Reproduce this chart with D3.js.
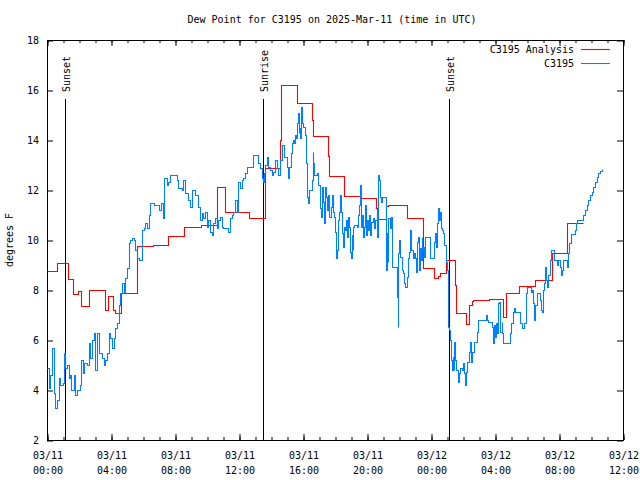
<!DOCTYPE html>
<html>
<head>
<meta charset="utf-8">
<script src="https://cdn.jsdelivr.net/npm/d3@7"></script>
<style>
  html, body { margin: 0; padding: 0; background: #fff; }
  svg { display: block; }
  text { font-family: "DejaVu Sans Mono", "Liberation Mono", monospace; font-size: 10px; fill: #000; }
</style>
</head>
<body>
<svg id="chart" width="640" height="480"></svg>
<script>
// ---------------- data ----------------
const chartTitle = "Dew Point for C3195 on 2025-Mar-11 (time in UTC)";
const yLabel = "degrees F";
const seriesNames = ["C3195 Analysis", "C3195"];

// hours since 03/11 00:00 UTC
const xTickHours = [0, 4, 8, 12, 16, 20, 24, 28, 32, 36];
const xTickDates = ["03/11", "03/11", "03/11", "03/11", "03/11", "03/11", "03/12", "03/12", "03/12", "03/12"];
const xTickTimes = ["00:00", "04:00", "08:00", "12:00", "16:00", "20:00", "00:00", "04:00", "08:00", "12:00"];
const xMinorHours = d3.range(0, 37, 1);
const yTicks = [2, 4, 6, 8, 10, 12, 14, 16, 18];

const sunEvents = [
  { label: "Sunset", hour: 1.125 },
  { label: "Sunrise", hour: 13.52 },
  { label: "Sunset", hour: 25.14 }
];

// analysis (step) series: [hour, value]
const analysis = [
  [0, 8.76], [0.6, 9.1], [1.29, 8.76], [1.33, 8.43], [1.65, 7.84], [1.96, 7.97], [2.1, 7.36],
  [2.65, 7.99], [3.63, 7.2], [3.83, 7.77], [4.1, 7.2], [4.25, 7.07], [4.63, 7.9], [5.6, 9.76],
  [6.65, 9.8], [7.58, 10.16], [8.58, 10.53], [9.6, 10.6], [10.6, 12.13], [11.13, 11.13],
  [12.62, 10.87], [13.63, 12.87], [14.56, 14.0], [14.6, 16.2], [15.6, 15.84], [15.64, 15.47],
  [16.56, 14.8], [16.6, 14.16], [17.56, 13.36], [17.6, 12.57], [18.56, 11.76], [19.6, 11.68],
  [20.56, 11.28], [20.65, 10.83], [21.19, 11.36], [21.3, 11.4], [22.5, 10.87], [23.52, 8.9],
  [24.2, 8.47], [24.45, 8.55], [24.56, 8.67], [24.94, 9.2], [25.5, 8.2], [25.58, 7.1],
  [26.19, 6.64], [26.4, 7.4], [26.54, 7.57], [26.65, 7.6], [27.6, 7.64], [28.52, 6.93],
  [28.69, 7.9], [29.52, 8.17], [30.5, 8.4], [31.54, 9.47], [32.48, 10.67], [33.5, 10.67]
];

// observed series: [hour, value]
const observed = [
  [0, 4.9], [0.1, 4.1], [0.21, 4.6], [0.31, 5.7], [0.42, 3.9], [0.52, 3.3], [0.63, 3.6], [0.73, 4.5],
  [0.83, 4.2], [1.0, 4.3], [1.04, 5.5], [1.15, 4.9], [1.25, 5.0], [1.35, 4.5], [1.46, 4.6], [1.5, 4.0],
  [1.67, 4.6], [1.77, 3.8], [1.88, 4.0], [2.08, 4.2], [2.13, 5.2], [2.25, 4.7], [2.33, 5.1], [2.5, 5.0],
  [2.6, 5.9], [2.71, 5.3], [2.81, 6.0], [2.92, 6.3], [3.02, 4.8], [3.13, 6.3], [3.23, 5.5], [3.44, 5.3],
  [3.54, 5.0], [3.65, 5.2], [3.75, 5.5], [3.85, 6.3], [3.96, 6.1], [4.06, 5.7], [4.17, 6.1], [4.27, 6.5],
  [4.38, 6.7], [4.48, 7.4], [4.58, 7.9], [4.69, 8.3], [4.79, 7.9], [4.9, 8.5], [5.0, 8.9], [5.1, 9.9],
  [5.21, 10.0], [5.31, 10.1], [5.46, 10.0], [5.52, 9.6], [5.63, 9.3], [5.73, 9.2], [5.94, 10.4],
  [6.04, 10.5], [6.15, 10.7], [6.25, 10.5], [6.35, 11.0], [6.46, 11.5], [6.67, 11.4], [6.98, 11.2],
  [7.06, 11.2], [7.15, 11.5], [7.27, 10.9], [7.3, 12.47], [7.48, 12.2], [7.58, 12.3], [7.69, 12.6],
  [8.06, 12.6], [8.1, 12.4], [8.21, 12.1], [8.42, 12.0], [8.52, 12.4], [8.63, 11.9], [8.83, 11.6],
  [8.94, 11.3], [9.04, 12.0], [9.25, 11.8], [9.46, 11.33], [9.56, 10.8], [9.67, 11.1], [9.77, 10.9],
  [9.88, 11.13], [9.98, 10.53], [10.08, 10.8], [10.19, 10.33], [10.29, 10.2], [10.4, 10.67],
  [10.5, 10.87], [10.6, 10.47], [10.71, 10.8], [10.81, 10.93], [10.92, 10.53], [11.02, 10.5],
  [11.33, 10.3], [11.44, 10.9], [11.54, 11.0], [11.65, 11.13], [11.75, 11.6], [11.85, 11.13],
  [11.96, 12.33], [12.06, 12.1], [12.17, 12.4], [12.27, 12.47], [12.38, 12.67], [12.48, 12.93],
  [12.9, 13.4], [13.21, 13.07], [13.31, 12.9], [13.42, 12.47], [13.48, 12.3], [13.54, 12.7],
  [13.63, 13.0], [13.73, 13.33], [13.83, 12.93], [13.94, 12.8], [14.04, 12.6], [14.15, 12.73],
  [14.25, 13.2], [14.35, 12.87], [14.46, 12.6], [14.56, 13.2], [14.67, 13.8], [14.81, 13.33],
  [14.98, 12.93], [15.08, 12.47], [15.15, 12.93], [15.23, 13.47], [15.29, 13.87], [15.35, 14.0],
  [15.44, 13.87], [15.5, 14.2], [15.56, 14.07], [15.6, 14.67], [15.67, 15.07], [15.73, 14.27],
  [15.77, 14.47], [15.81, 14.07], [15.88, 15.33], [15.94, 14.67], [16.02, 14.53], [16.13, 14.2],
  [16.19, 13.07], [16.23, 11.73], [16.33, 11.47], [16.4, 12.0], [16.56, 12.4], [16.6, 13.53],
  [16.65, 13.07], [16.71, 12.6], [16.85, 12.67], [16.94, 12.2], [17.06, 11.27], [17.13, 10.93],
  [17.19, 12.13], [17.25, 11.53], [17.31, 10.67], [17.38, 12.13], [17.44, 11.73], [17.52, 11.2],
  [17.58, 11.8], [17.65, 10.93], [17.73, 11.33], [17.79, 11.8], [17.85, 11.13], [17.94, 10.93],
  [18.0, 10.33], [18.06, 9.27], [18.1, 9.6], [18.17, 10.8], [18.23, 11.13], [18.31, 11.8],
  [18.35, 11.13], [18.42, 10.27], [18.48, 9.73], [18.56, 10.53], [18.63, 10.4], [18.69, 10.8],
  [18.73, 10.13], [18.79, 10.93], [18.85, 10.53], [18.92, 9.53], [18.98, 9.27], [19.04, 10.2],
  [19.1, 9.6], [19.15, 10.53], [19.21, 10.6], [19.4, 10.53], [19.46, 11.0], [19.52, 11.4],
  [19.56, 12.2], [19.63, 10.53], [19.69, 11.0], [19.75, 10.13], [19.81, 10.53], [19.88, 11.4],
  [19.94, 10.2], [20.0, 10.8], [20.08, 10.4], [20.15, 11.0], [20.19, 10.2], [20.25, 10.73],
  [20.38, 10.87], [20.44, 10.47], [20.5, 10.8], [20.6, 11.2], [20.65, 10.13], [20.71, 12.6],
  [20.77, 12.4], [20.81, 11.73], [20.88, 11.53], [20.94, 11.73], [21.17, 11.73], [21.19, 8.8],
  [21.23, 10.27], [21.29, 9.13], [21.33, 10.87], [21.42, 10.47], [21.48, 10.93], [21.54, 8.93],
  [21.85, 8.93], [21.88, 7.73], [21.92, 6.53], [21.96, 9.47], [22.02, 10.0], [22.08, 9.33],
  [22.17, 8.8], [22.23, 8.67], [22.29, 8.27], [22.38, 8.13], [22.48, 8.53], [22.54, 9.27],
  [22.63, 9.53], [22.69, 10.4], [22.75, 9.6], [22.9, 9.27], [22.96, 9.47], [23.0, 9.27],
  [23.04, 8.73], [23.1, 9.93], [23.17, 10.13], [23.25, 8.8], [23.31, 9.67], [23.38, 9.2],
  [23.42, 10.13], [23.46, 9.53], [23.52, 9.73], [23.58, 9.33], [23.63, 10.13], [23.94, 9.27],
  [24.21, 9.93], [24.25, 10.27], [24.29, 9.73], [24.35, 10.67], [24.42, 10.87], [24.46, 11.27],
  [24.52, 10.8], [24.56, 11.13], [24.63, 10.47], [24.71, 10.4], [24.77, 10.27], [24.83, 9.8],
  [24.92, 9.13], [24.98, 8.8], [25.04, 7.47], [25.08, 6.53], [25.15, 6.4], [25.19, 6.0],
  [25.23, 5.2], [25.29, 4.8], [25.35, 5.33], [25.42, 4.8], [25.46, 5.93], [25.52, 5.2],
  [25.58, 4.8], [25.71, 4.33], [25.77, 4.67], [25.83, 4.87], [25.92, 4.8], [25.98, 5.07],
  [26.04, 4.67], [26.1, 4.2], [26.17, 4.73], [26.23, 5.13], [26.4, 5.53], [26.46, 5.93],
  [26.52, 5.13], [26.58, 5.53], [26.67, 5.93], [26.85, 6.33], [26.92, 6.8], [27.38, 6.8],
  [27.42, 7.0], [27.48, 6.8], [27.58, 6.73], [27.79, 6.53], [27.85, 5.87], [27.92, 6.6],
  [28.0, 6.13], [28.06, 6.67], [28.13, 6.27], [28.21, 7.47], [28.27, 7.53], [28.33, 6.33],
  [28.42, 6.73], [28.46, 6.27], [28.52, 5.87], [28.9, 5.87], [28.94, 6.27], [29.0, 6.67],
  [29.1, 7.13], [29.19, 7.3], [29.25, 7.13], [29.52, 7.13], [29.56, 6.67], [29.67, 6.47],
  [29.81, 6.67], [29.92, 7.87], [29.98, 8.13], [30.19, 8.13], [30.25, 7.93], [30.31, 8.0],
  [30.4, 7.47], [30.44, 6.8], [30.5, 7.4], [30.6, 7.87], [30.71, 7.87], [30.81, 7.6],
  [30.88, 7.2], [30.94, 7.13], [30.98, 7.47], [31.02, 8.0], [31.08, 8.27], [31.15, 8.93],
  [31.19, 8.4], [31.25, 8.13], [31.31, 8.6], [31.44, 9.2], [31.5, 9.6], [31.65, 9.6],
  [31.71, 9.2], [31.85, 9.0], [31.96, 9.2], [32.06, 8.93], [32.13, 8.6], [32.19, 8.8],
  [32.27, 9.2], [32.48, 8.93], [32.56, 9.47], [32.65, 9.87], [32.73, 10.24], [32.94, 10.24],
  [33.0, 10.4], [33.06, 10.67], [33.1, 10.8], [33.42, 10.8], [33.52, 11.0], [33.63, 11.2],
  [33.73, 11.4], [33.83, 11.6], [33.94, 11.8], [34.04, 11.93], [34.15, 12.13], [34.25, 12.33],
  [34.35, 12.53], [34.46, 12.67], [34.56, 12.77], [34.67, 12.84]
];

// ---------------- layout ----------------
const plot = { left: 47, right: 623, top: 40, bottom: 440 };
const colors = { analysis: "#ff0000", obs: "#0080ff" };

const svg = d3.select("#chart");

const x = d3.scaleLinear().domain([0, 36]).range([plot.left, plot.right]);
const y = d3.scaleLinear().domain([2, 18]).range([plot.bottom, plot.top]);

// title
svg.append("text")
  .attr("x", 332)
  .attr("y", 23)
  .attr("text-anchor", "middle")
  .text(chartTitle);

// y label
svg.append("text")
  .attr("transform", `translate(13, ${(plot.top + plot.bottom) / 2}) rotate(-90)`)
  .attr("text-anchor", "middle")
  .text(yLabel);

function styleAxis(g) {
  g.select(".domain").remove();
  g.selectAll(".tick line").attr("stroke", "#000");
  g.selectAll(".tick text").attr("font-family", '"DejaVu Sans Mono", monospace').attr("font-size", 10).attr("fill", "#000");
}

// bottom minor
svg.append("g").attr("transform", `translate(0.5,${plot.bottom})`)
  .call(d3.axisBottom(x).tickValues(xMinorHours).tickSize(-3).tickSizeOuter(0).tickFormat(""))
  .call(styleAxis);
// top minor
svg.append("g").attr("transform", `translate(0.5,${plot.top})`)
  .call(d3.axisTop(x).tickValues(xMinorHours).tickSize(-3).tickSizeOuter(0).tickFormat(""))
  .call(styleAxis);
// bottom major with labels
const xAxisG = svg.append("g").attr("transform", `translate(0.5,${plot.bottom})`)
  .call(d3.axisBottom(x).tickValues(xTickHours).tickSize(-6).tickSizeOuter(0).tickFormat((d, i) => xTickDates[i]))
  .call(styleAxis);
xAxisG.selectAll(".tick text").each(function (d, i) {
  const t = d3.select(this);
  t.text(null).attr("y", 0).attr("dy", null);
  t.append("tspan").attr("x", 0).attr("y", 19).text(xTickDates[i]);
  t.append("tspan").attr("x", 0).attr("y", 34).text(xTickTimes[i]);
});
// top major
svg.append("g").attr("transform", `translate(0.5,${plot.top})`)
  .call(d3.axisTop(x).tickValues(xTickHours).tickSize(-6).tickSizeOuter(0).tickFormat(""))
  .call(styleAxis);
// left
svg.append("g").attr("transform", `translate(${plot.left},0.5)`)
  .call(d3.axisLeft(y).tickValues(yTicks).tickSize(-6).tickSizeOuter(0).tickPadding(8).tickFormat(d3.format("d")))
  .call(styleAxis);
// right
svg.append("g").attr("transform", `translate(${plot.right},0.5)`)
  .call(d3.axisRight(y).tickValues(yTicks).tickSize(-6).tickSizeOuter(0).tickFormat(""))
  .call(styleAxis);

// frame
svg.append("rect")
  .attr("x", plot.left + 0.5).attr("y", plot.top + 0.5)
  .attr("width", plot.right - plot.left).attr("height", plot.bottom - plot.top)
  .attr("fill", "none").attr("stroke", "#000").attr("stroke-width", 1);

// sun event lines
const sunG = svg.append("g");
sunEvents.forEach(e => {
  const xp = Math.round(x(e.hour)) + 0.5;
  sunG.append("line")
    .attr("x1", xp).attr("x2", xp)
    .attr("y1", 99).attr("y2", plot.bottom)
    .attr("stroke", "#000").attr("stroke-width", 1);
  sunG.append("text")
    .attr("transform", `translate(${xp + 4}, 92) rotate(-90)`)
    .attr("text-anchor", "start")
    .text(e.label);
});

// lines (snapped to pixel centres for a crisp 1px look)
const line = d3.line()
  .x(d => Math.round(x(d[0])) + 0.5)
  .y(d => Math.round(y(d[1])) + 0.5)
  .curve(d3.curveStepAfter);

svg.append("path")
  .datum(analysis)
  .attr("d", line)
  .attr("fill", "none")
  .attr("stroke", colors.analysis)
  .attr("stroke-width", 1.1);

svg.append("path")
  .datum(observed)
  .attr("d", line)
  .attr("fill", "none")
  .attr("stroke", colors.obs)
  .attr("stroke-width", 1.1);

// legend
const legend = svg.append("g");
const legendItems = [
  { name: seriesNames[0], color: colors.analysis, yy: 49 },
  { name: seriesNames[1], color: colors.obs, yy: 63 }
];
legendItems.forEach(it => {
  legend.append("text")
    .attr("x", 574).attr("y", it.yy + 4)
    .attr("text-anchor", "end")
    .text(it.name);
  legend.append("line")
    .attr("x1", 581).attr("x2", 610)
    .attr("y1", it.yy + 0.5).attr("y2", it.yy + 0.5)
    .attr("stroke", it.color).attr("stroke-width", 1.1);
});
</script>
</body>
</html>
